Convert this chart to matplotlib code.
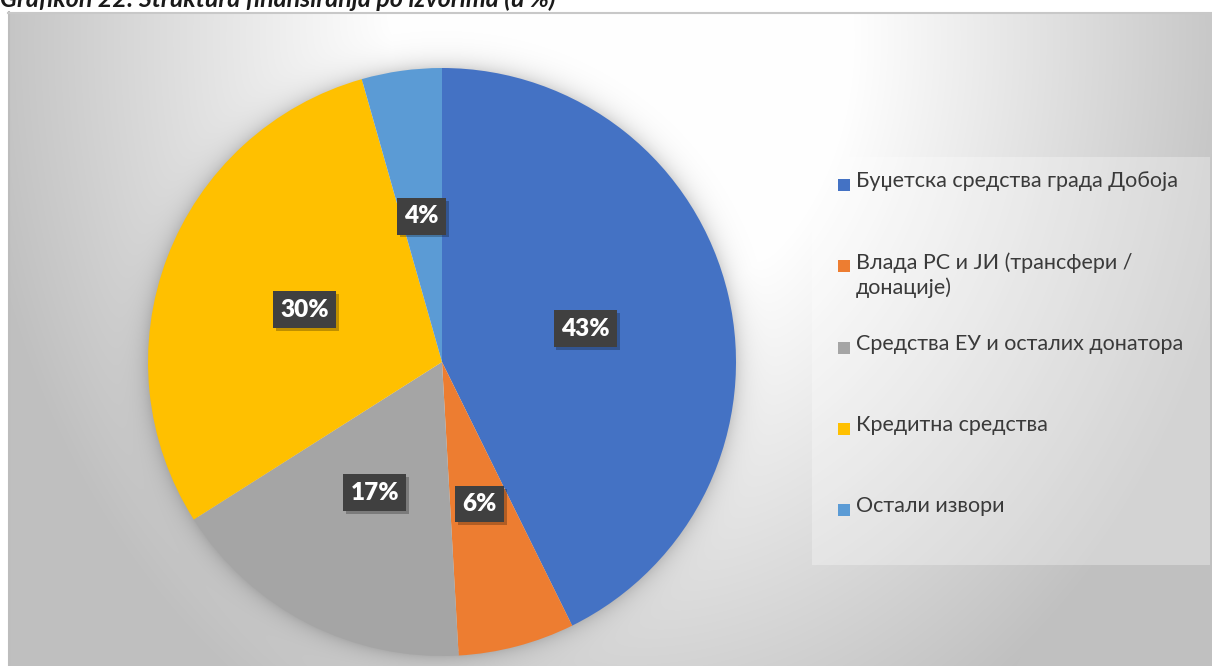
import numpy as np
import matplotlib
matplotlib.use("Agg")
import matplotlib.pyplot as plt
from matplotlib import patheffects as pe
from matplotlib.patches import Rectangle

# ---- data ----
categories = [
    "Буџетска средства града Добоја",
    "Влада РС и ЈИ (трансфери /\nдонације)",
    "Средства ЕУ и осталих донатора",
    "Кредитна средства",
    "Остали извори",
]
shares = [42.7, 6.4, 16.9, 29.6, 4.4]
colors = ["#4472C4", "#ED7D31", "#A5A5A5", "#FFC000", "#5B9BD5"]
title = "Grafikon 22: Struktura finansiranja po izvorima (u %)"

FONT = ["Lato", "Open Sans", "DejaVu Sans"]
plt.rcParams["font.family"] = FONT

W, H = 1212, 666
fig = plt.figure(figsize=(W / 100, H / 100), dpi=100)
fig.patch.set_facecolor("white")

# ---- background (pixel coordinates) ----
bg = fig.add_axes([0, 0, 1, 1])
bg.set_xlim(0, W)
bg.set_ylim(H, 0)
bg.axis("off")

cx_pie, cy_pie, R = 442, 362, 294
x0, y0 = 8, 12
yy, xx = np.mgrid[0:H, 0:W] + 0.5
r = np.sqrt(((xx - 620) / 1.0) ** 2 + ((yy - 40) / 1.22) ** 2)
v = 255 - 0.151 * np.clip(r - 228, 0, None)
v = np.clip(v, 192, 255) / 255.0
# soft glow/shadow around the pie
d = np.sqrt((xx - cx_pie) ** 2 + (yy - cy_pie) ** 2) - R
shadow = np.where(d > -5, 0.16 * np.exp(-np.clip(d, 0, None) / 10.0), 0)
v = v * (1 - shadow)
v[(xx < x0) | (yy < y0)] = 1.0
img = np.dstack([v, v, v])
bg.imshow(img, extent=[0, W, H, 0], interpolation="bilinear", zorder=0)
bg.plot([x0 + 1, x0 + 1], [y0, H], color="#bdbdbd", lw=1.5, zorder=1)
bg.plot([x0, W], [y0 + 1, y0 + 1], color="#c8c8c8", lw=1.5, zorder=1)

# title (clipped at the top edge, as in the source document)
bg.text(0, 7, title, fontsize=18, fontweight="bold", fontstyle="italic",
        color="#1a1a1a", ha="left", va="baseline", zorder=2)

# legend box
bg.add_patch(Rectangle((812, 157), 398, 408, facecolor="white", alpha=0.3,
                       edgecolor="none", zorder=1))
for i, (lab, col) in enumerate(zip(categories, colors)):
    ym = 185 + i * 81.3
    bg.add_patch(Rectangle((838, ym - 6), 12, 12, facecolor=col,
                           edgecolor="none", zorder=2))
    bg.text(856, ym - 14, lab, fontsize=15.5, color="#3a3a3a", ha="left",
            va="top", linespacing=1.3, zorder=2)

# ---- pie ----
ax = fig.add_axes([(cx_pie - R) / W, (H - cy_pie - R) / H, 2 * R / W, 2 * R / H])
ax.set_zorder(3)
wedges, texts, autotexts = ax.pie(
    shares, colors=colors, startangle=90, counterclock=False, radius=1,
    autopct=lambda p: f"{p:.0f}%", pctdistance=0.5,
    wedgeprops=dict(linewidth=0),
    textprops=dict(color="white", fontsize=17.5, fontweight="heavy"),
)
ax.set_xlim(-1, 1)
ax.set_ylim(-1, 1)
ax.set_aspect("equal")
ax.axis("off")
for t in autotexts:
    t.set_bbox(dict(boxstyle="square,pad=0.3", facecolor="#404040",
                    edgecolor="none"))
    t.get_bbox_patch().set_path_effects(
        [pe.SimplePatchShadow(offset=(2, -2), shadow_rgbFace="black", alpha=0.25),
         pe.Normal()])

fig.savefig("out.png", dpi=100)
